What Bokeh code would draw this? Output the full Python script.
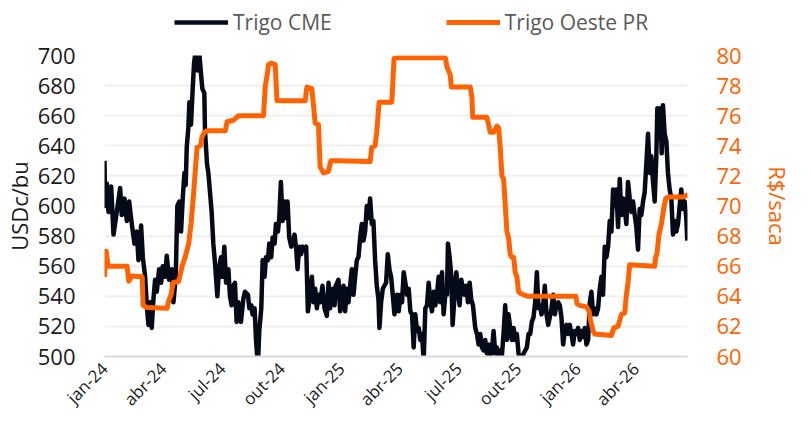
import math
from bokeh.plotting import figure
from bokeh.layouts import column
from bokeh.models import Range1d, LinearAxis, FixedTicker, Legend, LegendItem
from bokeh.embed import file_html
from bokeh.resources import INLINE

# x values are days since 2024-01-01
cme_days = [0.0, 1.0, 3.6, 6.2, 10.3, 13.9, 19.0, 24.2, 26.7, 30.9, 34.5, 38.1, 42.2, 46.3, 49.9,
            52.5, 56.6, 59.2, 62.8, 65.3, 67.9, 70.5, 73.0, 75.6, 78.2, 80.8, 84.4, 87.5, 90.0,
            93.6, 96.2, 99.8, 103.9, 106.5, 110.1, 112.6, 115.7, 118.3, 120.9, 123.5, 125.5,
            127.1, 129.6, 131.2, 133.7, 136.3, 138.4, 140.9, 144.0, 146.1, 148.7, 151.2, 154.3,
            155.3, 158.4, 160.5, 163.1, 165.6, 168.2, 170.8, 174.4, 177.0, 180.0, 182.1, 185.2,
            187.8, 191.4, 193.9, 196.5, 199.1, 201.6, 204.2, 206.8, 210.9, 214.5, 217.1,
            221.7, 223.8, 226.9, 228.9, 232.0, 234.1, 237.1, 239.2, 242.3, 244.4, 247.4, 249.5,
            252.6, 254.6, 257.7, 259.8, 262.9, 264.9, 268.0, 270.1, 272.6, 275.2, 278.3, 280.4,
            282.9, 285.5, 288.6, 291.2, 293.7, 296.3, 298.4, 300.9, 304.0, 306.1, 309.2, 311.7,
            314.3, 316.9, 320.5, 323.1, 325.6, 328.2, 330.8, 333.3, 336.9, 340.0, 343.6, 346.2,
            348.8, 352.4, 355.5, 357.5, 361.6, 364.2, 366.8, 369.3, 371.9, 374.5, 377.1, 379.6,
            382.2, 384.8, 387.4, 389.9, 392.5, 395.1, 397.6, 400.2, 402.8, 405.4, 407.9, 410.5,
            413.1, 415.6, 418.2, 420.8, 423.4, 424.9, 427.5, 430.1, 432.6, 435.2, 437.8, 440.3,
            442.9, 445.5, 448.1,
            452.1, 454.7, 457.3, 459.8, 462.4, 465.0, 467.5, 470.1, 472.7, 475.3, 477.8, 480.4,
            483.0, 485.6, 488.1, 490.7, 493.3, 495.8, 498.4, 501.0, 503.6, 506.1, 508.7, 511.3,
            513.8, 516.4, 519.0, 521.6, 524.1, 526.7, 529.3, 530.8, 533.4, 536.0, 538.0, 541.1,
            543.7, 546.3, 548.8, 551.4, 554.0, 556.5, 559.1, 561.7, 564.3, 566.8, 569.4, 573.0,
            575.6, 578.1, 580.7, 583.3, 585.9, 588.4, 591.0, 593.6, 596.1, 598.7, 601.3, 603.9,
            606.4, 609.0, 611.6, 614.2, 616.7, 619.3, 621.9, 624.4, 627.0, 629.6, 632.2, 634.7,
            637.3, 639.9, 642.4, 645.0, 647.6, 650.2, 652.7, 655.3, 657.9, 660.4, 663.0, 665.6,
            668.2, 670.7, 673.3,
            675.4, 678.0, 680.5, 683.1, 685.7, 688.2, 690.8, 693.4, 696.0, 698.5, 701.1, 703.7,
            706.2, 708.8, 711.4, 714.0, 716.5, 719.1, 721.7, 724.2, 726.8, 729.4, 732.0, 734.5,
            737.1, 739.7, 742.2, 744.8, 747.4, 750.0, 752.5, 755.1, 757.7, 760.2, 762.8, 765.4,
            768.0, 770.5, 773.1, 775.7, 778.3, 780.8, 783.4, 786.0, 788.5, 791.1, 793.7, 796.3,
            798.8, 801.4, 804.0, 806.5, 809.1, 811.7, 814.3, 816.8, 819.4, 822.0, 824.5, 827.1,
            829.7, 832.3, 834.8, 837.4, 840.0, 842.6, 845.1, 847.7, 850.3, 852.8, 854.4, 857.0,
            859.0, 861.1, 863.1, 865.7, 868.3, 870.8, 873.4, 876.0, 878.6, 881.1, 883.7, 886.3,
            888.9, 891.4, 894.0, 896.6, 899.1, 900.7]
cme_values = [630, 600, 615, 596, 613, 581, 596, 612, 594, 605, 590, 603, 588, 575, 583,
              564, 587, 566, 553, 534, 521, 536, 519, 538, 551, 543, 558, 549, 560,
              553, 567, 551, 558, 536, 553, 600, 603, 583, 605, 622, 614,
              639, 652, 669, 654, 678, 695, 703, 690, 704, 690, 678, 675,
              650, 628, 622, 609, 596, 575, 562, 540, 558, 566, 553, 573,
              549, 558, 540, 534, 547, 549, 523, 536, 523, 538, 543,
              541, 532, 534, 528, 532, 511, 494, 517, 532, 564, 553, 566,
              564, 575, 566, 579, 575, 588, 583, 592, 616, 590, 603, 592,
              603, 579, 573, 577, 581, 571, 558, 573, 568, 573, 571, 573,
              530, 538, 553, 536, 545, 532, 541, 536, 547, 532, 527, 549,
              532, 545, 534, 547, 551, 530, 536, 547, 530, 545, 536, 547,
              558, 541, 553, 564, 566, 579, 588, 577, 583, 600, 592, 605,
              588, 590, 564, 547, 538, 519, 536, 545, 547, 549, 568, 558,
              553, 541, 528,
              541, 530, 541, 536, 556, 549, 541, 545, 530, 528, 506, 528,
              517, 519, 511, 515, 497, 532, 534, 549, 536, 530, 543, 534,
              541, 553, 536, 556, 528, 541, 541, 575, 566, 553, 521, 541,
              556, 543, 534, 551, 545, 541, 547, 536, 549, 538, 534, 519,
              515, 508, 515, 506, 504, 511, 502, 508, 498, 504, 517, 502,
              506, 498, 504, 501, 515, 534, 511, 528, 519, 511, 519, 511,
              515, 502, 497, 498, 502, 504, 506, 515, 515, 523, 526, 536,
              556, 532, 534,
              528, 534, 547, 528, 521, 526, 532, 541, 528, 534, 536, 534,
              526, 508, 517, 521, 515, 521, 515, 508, 517, 515, 519, 511,
              517, 513, 519, 508, 511, 536, 543, 528, 532, 528, 532, 545,
              553, 541, 573, 566, 573, 590, 583, 611, 600, 611, 586, 618,
              594, 605, 598, 588, 616, 605, 596, 603, 594, 586, 571, 598,
              594, 603, 609, 628, 648, 622, 633, 616, 603, 633, 665, 645,
              665, 635, 667, 648, 643, 622, 611, 605, 581, 590, 583, 588,
              600, 611, 598, 603, 592, 577]

pr_days = [0.0, 2.5, 5.0, 6.6, 35.0, 37.5, 42.7, 58.2, 59.7, 65.9, 96.8, 99.2, 102.9, 106.0,
           114.7, 119.9, 125.0, 130.1, 133.8, 137.8, 140.4, 143.1, 148.1, 150.8, 154.3, 158.5,
           186.7, 189.4, 199.5, 207.3, 245.8, 248.5, 251.1, 253.5, 257.3, 263.9, 266.5, 310.2,
           312.8, 320.5, 323.0, 325.6, 330.7, 333.3, 338.4, 346.1, 349.8, 359.1, 410.5, 413.1,
           418.2, 420.8, 424.4, 444.0, 447.5, 454.2, 487.7, 526.7, 529.3, 534.4, 536.0, 565.3,
           567.9, 569.0, 591.0, 593.7, 596.1, 601.4, 606.5, 609.1, 611.6, 614.2, 616.8, 619.3,
           621.9, 624.5, 627.0, 629.6, 632.3, 634.7, 637.3, 640.0, 642.4, 647.7, 655.4, 728.4,
           730.4, 734.6, 744.9, 748.9, 751.1, 755.1, 757.7, 783.5, 787.0, 793.7, 798.9, 804.0,
           806.6, 809.1, 811.7, 850.3, 851.8, 853.8, 856.9, 860.6, 864.2, 867.3, 870.8, 894.0,
           899.2, 901.7]
pr_values = [65.3, 67.0, 66.2, 66.0, 66.0, 65.0, 65.35, 65.3, 63.4, 63.25, 63.2, 63.7, 64.1, 64.9,
             65.0, 66.0, 66.65, 67.5, 68.8, 70.9, 72.4, 73.9, 74.0, 74.6, 74.9, 75.0,
             75.0, 75.6, 75.7, 76.0, 76.0, 78.0, 78.6, 79.4, 79.5, 79.4, 77.0, 77.0,
             77.9, 77.8, 76.7, 75.5, 75.4, 72.6, 72.2, 72.3, 73.0, 73.0, 72.95, 73.9,
             74.0, 74.9, 76.9, 76.9, 79.8, 79.85, 79.85, 79.85, 79.25, 78.7, 77.9, 77.9,
             77.2, 75.9, 75.9, 75.4, 74.9, 74.9, 75.3, 75.2, 73.9, 72.0, 71.8, 70.1,
             68.3, 67.9, 66.8, 66.6, 66.6, 65.6, 65.3, 64.3, 64.2, 64.1, 64.0, 64.0,
             63.5, 63.4, 63.3, 63.0, 62.4, 61.7, 61.5, 61.4, 61.9, 62.0, 62.8, 62.9,
             64.1, 64.9, 66.1, 66.0, 66.6, 66.8, 68.1, 68.8, 69.8, 70.5, 70.6, 70.6,
             70.7, 70.8]

tick_days = [0, 91, 182, 274, 366, 456, 547, 639, 731, 821]
tick_labels = ["jan-24", "abr-24", "jul-24", "out-24", "jan-25", "abr-25",
               "jul-25", "out-25", "jan-26", "abr-26"]
left_ticks = [500, 520, 540, 560, 580, 600, 620, 640, 660, 680, 700]
right_ticks = [60, 62, 64, 66, 68, 70, 72, 74, 76, 78, 80]

BLACK = "#050a18"
ORANGE = "#FF6200"
TEXT = "#1a1a1a"
FONT = "Open Sans"
LEG_H = 40

# ---- main chart ----
p = figure(width=795, height=421 - LEG_H, output_backend="svg", toolbar_location=None,
           x_range=Range1d(0, 901), y_range=Range1d(500, 700),
           min_border_left=104, min_border_right=107, min_border_top=55 - LEG_H,
           min_border_bottom=54)
p.extra_y_ranges = {"pr": Range1d(60, 80)}
p.outline_line_color = None
p.background_fill_color = "white"
p.border_fill_color = "white"

p.xgrid.visible = False
p.ygrid.grid_line_color = "#efefef"
p.ygrid.grid_line_width = 2
p.ygrid.ticker = FixedTicker(ticks=left_ticks)

p.line(cme_days, cme_values, line_color=BLACK, line_width=4.5, line_join="round")
p.line(pr_days, pr_values, line_color=ORANGE, line_width=5, line_join="round",
       y_range_name="pr")

xa = p.xaxis[0]
xa.ticker = FixedTicker(ticks=tick_days)
xa.major_label_overrides = {d: l for d, l in zip(tick_days, tick_labels)}
xa.major_label_orientation = math.pi / 4
xa.major_tick_line_color = None
xa.minor_tick_line_color = None
xa.axis_line_color = "#d9d9d9"
xa.axis_line_width = 2
xa.major_label_text_font = FONT
xa.major_label_text_font_size = "17px"
xa.major_label_text_color = TEXT
xa.major_label_standoff = 3

ya = p.yaxis[0]
ya.ticker = FixedTicker(ticks=left_ticks)
ya.axis_line_color = None
ya.major_tick_line_color = None
ya.minor_tick_line_color = None
ya.major_label_text_font = FONT
ya.major_label_text_font_size = "22px"
ya.major_label_text_color = TEXT
ya.major_label_standoff = 23
ya.axis_label = "USDc/bu"
ya.axis_label_text_font = FONT
ya.axis_label_text_font_style = "normal"
ya.axis_label_text_font_size = "22px"
ya.axis_label_text_color = TEXT
ya.axis_label_standoff = 1

ra = LinearAxis(y_range_name="pr", ticker=FixedTicker(ticks=right_ticks))
ra.axis_line_color = None
ra.major_tick_line_color = None
ra.minor_tick_line_color = None
ra.major_label_text_font = FONT
ra.major_label_text_font_size = "22px"
ra.major_label_text_color = ORANGE
ra.major_label_standoff = 23
ra.axis_label = "R$/saca"
ra.axis_label_text_font = FONT
ra.axis_label_text_font_style = "normal"
ra.axis_label_text_font_size = "22px"
ra.axis_label_text_color = ORANGE
ra.axis_label_standoff = 18
p.add_layout(ra, "right")

# ---- legend strip above the chart (series drawn out of its range, only the key shows) ----
lf = figure(width=795, height=LEG_H, output_backend="svg", toolbar_location=None,
            x_range=Range1d(0, 1), y_range=Range1d(0, 1),
            x_axis_type=None, y_axis_type=None, min_border=0)
lf.outline_line_color = None
lf.grid.visible = False
lf.border_fill_color = "white"
k1 = lf.line(cme_days, cme_values, line_color=BLACK, line_width=4.5)
k2 = lf.line(pr_days, pr_values, line_color=ORANGE, line_width=5)
legend = Legend(items=[LegendItem(label="Trigo CME", renderers=[k1]),
                       LegendItem(label="Trigo Oeste PR", renderers=[k2])],
                orientation="horizontal", location=(70, 4),
                glyph_width=54, glyph_height=26, label_standoff=5, spacing=114,
                padding=0, margin=0, border_line_color=None, background_fill_alpha=0,
                label_text_font=FONT, label_text_font_size="21px",
                label_text_color="#595959")
lf.add_layout(legend, "center")

open("out.html", "w").write(file_html(column(lf, p, spacing=0), INLINE))
